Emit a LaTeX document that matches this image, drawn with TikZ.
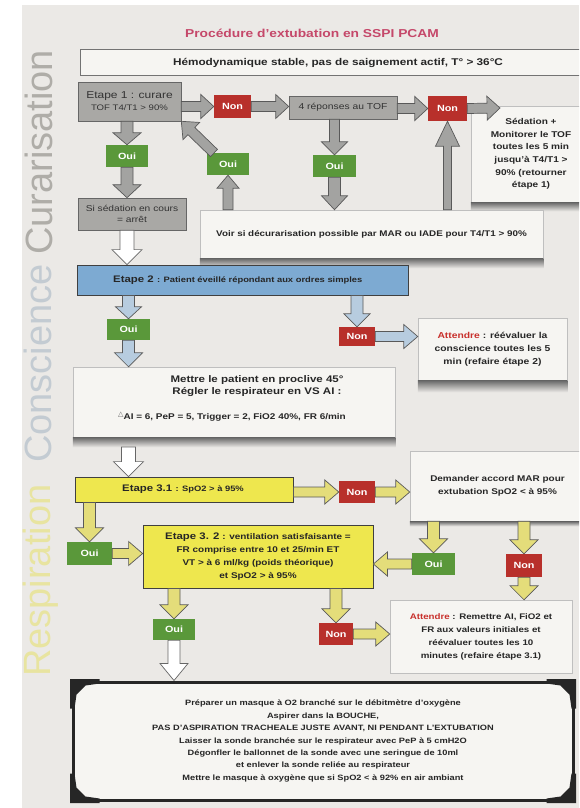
\documentclass[tikz,border=0pt]{standalone}
\usepackage{fontspec}
\setmainfont[FakeStretch=1.2]{Liberation Sans}
\newfontfamily\sidefont{Liberation Sans}
\newfontfamily\symfont{DejaVu Sans}
\usetikzlibrary{calc}
\definecolor{paper}{HTML}{EBE9E6}
\definecolor{boxw}{HTML}{F6F5F2}
\definecolor{gbox}{HTML}{A9A8A5}
\definecolor{ouig}{HTML}{5A983A}
\definecolor{nonr}{HTML}{B8302B}
\definecolor{e2blue}{HTML}{7DAAD2}
\definecolor{e3yel}{HTML}{EEE74E}
\definecolor{titlec}{HTML}{C5486A}
\definecolor{ink}{HTML}{262626}
\definecolor{attred}{HTML}{C8302C}
\definecolor{garrc}{HTML}{A3A3A1}
\definecolor{barrc}{HTML}{B7CCDF}
\definecolor{yarrc}{HTML}{E4DD7A}
\definecolor{curc}{HTML}{AFADA8}
\definecolor{consc}{HTML}{C3CBD2}
\definecolor{respc}{HTML}{E8E4A0}
\newcommand\fs[2]{\fontsize{#1pt}{#2pt}\selectfont}
\newcommand\barr[6]{%
  \coordinate (ba-a) at (#2);
  \coordinate (ba-b) at (#3);
  \coordinate (ba-h) at ($(ba-b)!#6pt!(ba-a)$);
  \draw[#1] ($(ba-a)!#4pt!90:(ba-b)$) -- ($(ba-h)!#4pt!90:(ba-b)$) -- ($(ba-h)!#5pt!90:(ba-b)$) -- (ba-b) -- ($(ba-h)!#5pt!-90:(ba-b)$) -- ($(ba-h)!#4pt!-90:(ba-b)$) -- ($(ba-a)!#4pt!-90:(ba-b)$) -- cycle;
}
\newcommand\shadebelow[2]{\shade[top color=black!60, bottom color=paper] (#1.south west) rectangle ($(#1.south east)+(0,#2)$);}
\tikzset{
  lbl/.style={font=\bfseries, text=ink, align=center, inner sep=0pt},
  gbx/.style={fill=gbox, draw=black!60, line width=0.6pt, align=center, text=black!80, inner sep=1pt},
  ouib/.style={fill=ouig, text=white, font=\bfseries\fs{9}{10}, inner sep=0pt},
  nonb/.style={fill=nonr, text=white, font=\bfseries\fs{9}{10}, inner sep=0pt},
  wbx/.style={fill=boxw, draw=black!25, line width=0.5pt, align=center, text=ink, inner sep=2pt},
  e2box/.style={fill=e2blue, draw=black!75, line width=0.8pt},
  e3box/.style={fill=e3yel, draw=black!75, line width=0.8pt, text=ink, align=center},
  fbox/.style={fill=boxw, draw=ink, line width=3pt, align=center, text=ink},
  side/.style={font=\sidefont\fs{38}{40}, inner sep=0pt},
  garrs/.style={fill=garrc, draw=black!65, line width=0.7pt, line join=miter},
  barrs/.style={fill=barrc, draw=black!65, line width=0.7pt, line join=miter},
  yarrs/.style={fill=yarrc, draw=black!65, line width=0.7pt, line join=miter},
  warrs/.style={fill=white, draw=black!60, line width=0.7pt, line join=miter},
  corn/.style={fill=ink}
}
\begin{document}
\begin{tikzpicture}[x=1pt,y=-1pt]
\useasboundingbox (0,0) rectangle (579,808);
\clip (0,0) rectangle (579,808);
\fill[white] (0,0) rectangle (579,808);
\fill[paper] (22,5) rectangle (579,808);
% side labels
\node[side, text=curc, anchor=base west, rotate=90] (lcur) at (52,255) {Curarisation};
\node[side, text=consc, anchor=base west, rotate=90] (lcon) at (51,463) {Conscience};
\node[side, text=respc, anchor=base west, rotate=90] (lres) at (50,677) {Respiration};
% title and header
\node[lbl, text=titlec, font=\bfseries\fs{11.5}{13}] (title) at (312,33) {Procédure d'extubation en SSPI PCAM};
\node[wbx, draw=black!55, line width=1pt, minimum width=516pt, minimum height=25pt, font=\bfseries\fs{9.8}{12}] (hdr) at (338,62.5) {Hémodynamique stable, pas de saignement actif, T° > 36°C};
% white boxes with shadows
\node[wbx, minimum width=120pt, minimum height=96pt, font=\bfseries\fs{8.4}{12.6}] (sed) at (531,154) {Sédation +\\Monitorer le TOF\\toutes les 5 min\\jusqu'à T4/T1 >\\90\% (retourner\\étape 1)};
\shadebelow{sed}{9}
\node[wbx, minimum width=343pt, minimum height=48pt, font=\bfseries\fs{8.2}{10}] (voir) at (371.5,234) {Voir si décurarisation possible par MAR ou IADE pour T4/T1 > 90\%};
\shadebelow{voir}{10}
\node[wbx, minimum width=149pt, minimum height=62pt, font=\bfseries\fs{8.6}{13}] (att1) at (492.5,349) {\textcolor{attred}{Attendre} : réévaluer la\\conscience toutes les 5\\min (refaire étape 2)};
\shadebelow{att1}{12}
\node[wbx, minimum width=322pt, minimum height=70pt] (mettre) at (234,402) {};
\shadebelow{mettre}{10}
\node[lbl, font=\bfseries\fs{9.6}{12.5}] (mt1) at (257,386) {Mettre le patient en proclive 45°\\Régler le respirateur en VS AI :};
\node[lbl, font=\bfseries\fs{8.3}{10}] (mt2) at (232,417) {\raisebox{3pt}{\symfont\mdseries\color{black!60}\fs{7}{8}△}AI = 6, PeP = 5, Trigger = 2, FiO2 40\%, FR 6/min};
\node[wbx, minimum width=175pt, minimum height=70pt, font=\bfseries\fs{8.3}{12.5}] (dem) at (497.5,486) {Demander accord MAR pour\\extubation SpO2 < à 95\%};
\shadebelow{dem}{5}
\node[wbx, minimum width=182pt, minimum height=73pt, font=\bfseries\fs{8.1}{13}] (att2) at (481,636.5) {\textcolor{attred}{Attendre} : Remettre AI, FiO2 et\\FR aux valeurs initiales et\\réévaluer toutes les 10\\minutes (refaire étape 3.1)};
% section 1
\node[gbx, minimum width=103pt, minimum height=39pt, font=\fs{10}{12}] (e1) at (129.5,101.5) {Etape 1 : curare\\{\fs{8}{10}TOF T4/T1 > 90\%}};
\node[nonb, minimum width=37pt, minimum height=23pt] (non1) at (232.5,106.5) {Non};
\node[gbx, minimum width=108pt, minimum height=23pt, font=\fs{8.6}{10}] (rep4) at (343,107.5) {4 réponses au TOF};
\node[nonb, minimum width=39pt, minimum height=25pt] (non2) at (447.5,108.5) {Non};
\node[ouib, minimum width=42pt, minimum height=22pt] (oui1) at (127,156) {Oui};
\node[ouib, minimum width=42pt, minimum height=22pt] (oui2) at (228,164) {Oui};
\node[ouib, minimum width=43pt, minimum height=22pt] (oui3) at (334.5,166) {Oui};
\node[gbx, minimum width=108pt, minimum height=32pt, font=\fs{8.5}{11}] (sedcours) at (132,214) {Si sédation en cours\\= arrêt};
\coordinate (sedtip) at (500,108);
\coordinate (oui2tl) at (214,153);
% section 2
\node[e2box, minimum width=331pt, minimum height=30pt] (e2) at (242.5,280) {};
\node[lbl, anchor=west] (e2t) at (113,280) {{\fs{9.5}{11}Etape 2} {\fs{7.8}{10}: Patient éveillé répondant aux ordres simples}};
\node[ouib, minimum width=43pt, minimum height=21pt] (oui4) at (128.5,329.5) {Oui};
\node[nonb, minimum width=36pt, minimum height=19pt] (non3) at (357,336.5) {Non};
% section 3
\node[e3box, minimum width=218pt, minimum height=25pt] (e31) at (184,489.5) {};
\node[lbl, anchor=west] (e31t) at (122,489.5) {{\fs{9.5}{11}Etape 3.1} {\fs{7.8}{10}: SpO2 > à 95\%}};
\node[nonb, minimum width=36pt, minimum height=22pt] (non4) at (357,492) {Non};
\node[ouib, minimum width=45pt, minimum height=23pt] (oui5) at (89.5,553.5) {Oui};
\node[e3box, minimum width=230pt, minimum height=63pt, font=\bfseries\fs{8.3}{13}] (e32) at (258,556.5) {{\fs{9.5}{13}Etape 3. 2} : ventilation satisfaisante =\\FR comprise entre 10 et 25/min ET\\VT > à 6 ml/kg (poids théorique)\\et SpO2 > à 95\%};
\node[ouib, minimum width=43pt, minimum height=22pt] (oui6) at (433.5,564) {Oui};
\node[nonb, minimum width=36pt, minimum height=23pt] (non5) at (524,565.5) {Non};
\node[ouib, minimum width=42pt, minimum height=21pt] (oui7) at (174,629.5) {Oui};
\node[nonb, minimum width=34pt, minimum height=22pt] (non6) at (336,634) {Non};
% final box
\node[fbox, minimum width=500pt, minimum height=118pt, font=\bfseries\fs{7.7}{12.4}] (final) at (323,741) {Préparer un masque à O2 branché sur le débitmètre d'oxygène\\Aspirer dans la BOUCHE,\\PAS D'ASPIRATION TRACHEALE JUSTE AVANT, NI PENDANT L'EXTUBATION\\Laisser la sonde branchée sur le respirateur avec PeP à 5 cmH2O\\Dégonfler le ballonnet de la sonde avec une seringue de 10ml\\et enlever la sonde reliée au respirateur\\Mettre le masque à oxygène que si SpO2 < à 92\% en air ambiant};
\foreach \anc/\sx/\sy in {north west/1/1, north east/-1/1, south west/1/-1, south east/-1/-1}{
  \begin{scope}[shift={(final.\anc)}, xscale=\sx, yscale=\sy]
    \fill[corn] (-1.5,-1.5) -- (28,-1.5) -- (28,3) -- (14,5) -- (5,14) -- (3,28) -- (-1.5,28) -- cycle;
  \end{scope}
}
% arrows section 1
\barr{garrs}{e1.east |- non1}{non1.west}{5}{12}{13}
\barr{garrs}{non1.east}{rep4.west |- non1}{5}{12}{13}
\barr{garrs}{rep4.east |- non2}{non2.west}{5}{12}{13}
\barr{garrs}{non2.east}{sedtip}{5}{12}{13}
\barr{garrs}{oui1.north |- e1.south}{oui1.north}{6}{14}{12}
\barr{garrs}{oui1.south}{sedcours.north -| oui1}{6}{14}{13}
\barr{warrs}{sedcours.south -| oui1}{e2.north -| oui1}{7}{15}{15}
\barr{garrs}{oui2tl}{e1.south east}{5}{12}{14}
\barr{garrs}{oui2.south |- voir.north}{oui2.south}{5}{11}{13}
\barr{garrs}{oui3.north |- rep4.south}{oui3.north}{5}{13}{13}
\barr{garrs}{oui3.south}{oui3.south |- voir.north}{6}{13}{14}
\barr{garrs}{non2.south |- voir.north}{non2.south}{4}{12}{25}
% arrows section 2
\barr{barrs}{oui4.north |- e2.south}{oui4.north}{6}{13}{12}
\barr{barrs}{oui4.south}{oui4.south |- mettre.north}{6}{14}{14}
\barr{barrs}{non3.north |- e2.south}{non3.north}{6}{13}{13}
\barr{barrs}{non3.east}{att1.west |- non3}{5}{12}{14}
\barr{warrs}{0,447 -| oui4}{e31.north -| oui4}{7}{15}{15}
% arrows section 3
\barr{yarrs}{e31.east |- non4}{non4.west}{5}{12}{14}
\barr{yarrs}{non4.east}{dem.west |- non4}{5}{12}{14}
\barr{yarrs}{oui5.north |- e31.south}{oui5.north}{6}{14}{14}
\barr{yarrs}{oui5.east}{e32.west |- oui5}{5}{12}{14}
\barr{yarrs}{oui6.north |- dem.south}{oui6.north}{6}{14}{14}
\barr{yarrs}{oui6.west}{e32.east |- oui6}{5}{12}{14}
\barr{yarrs}{non5.north |- dem.south}{non5.north}{6}{14}{14}
\barr{yarrs}{non5.south}{non5.south |- att2.north}{6}{14}{14}
\barr{yarrs}{oui7.north |- e32.south}{oui7.north}{6}{14}{14}
\barr{warrs}{oui7.south}{oui7.south |- final.north}{6}{14}{17}
\barr{yarrs}{non6.north |- e32.south}{non6.north}{6}{14}{14}
\barr{yarrs}{non6.east}{att2.west |- non6}{5}{12}{14}
\end{tikzpicture}
\end{document}
